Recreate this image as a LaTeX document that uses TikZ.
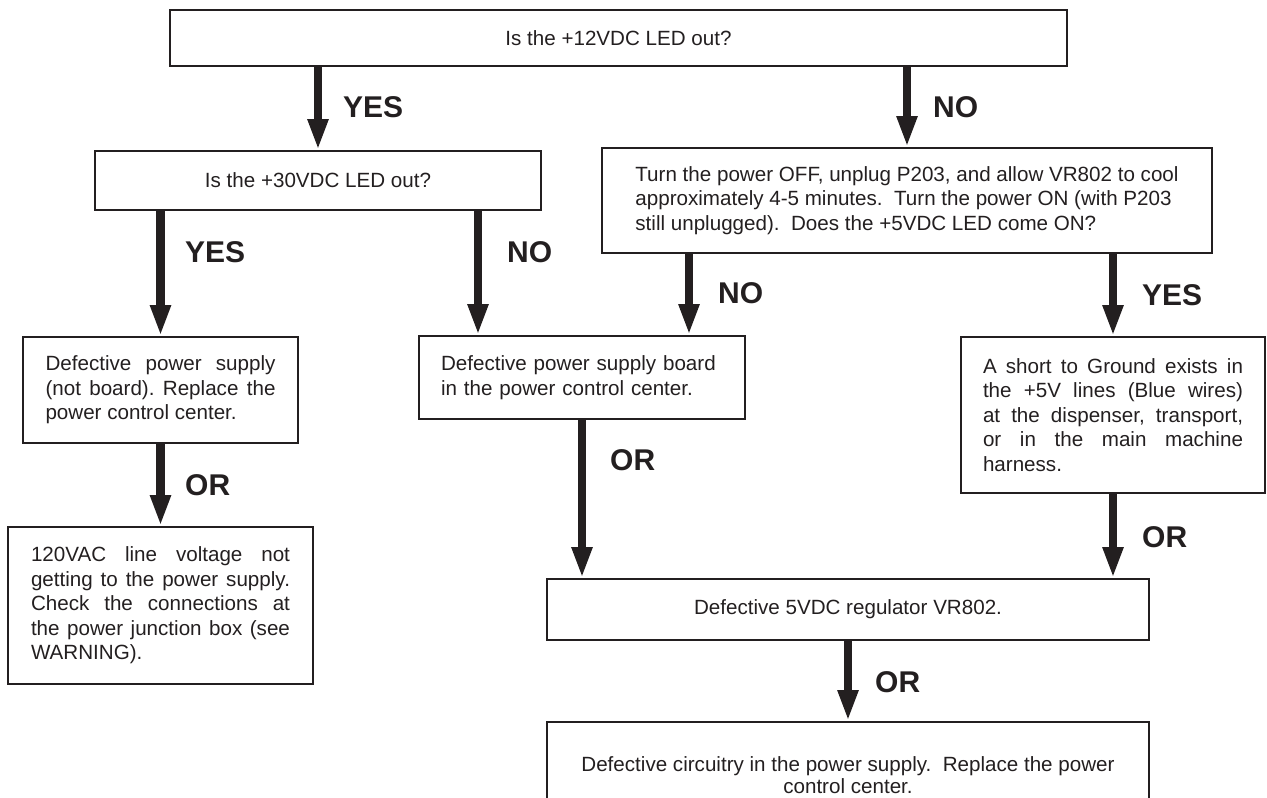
\documentclass[tikz,border=0pt]{standalone}
\usepackage{fontspec}
\setmainfont{Liberation Sans}
\usetikzlibrary{arrows.meta}
\definecolor{ink}{HTML}{231F20}
\hyphenpenalty=10000
\exhyphenpenalty=10000
\frenchspacing
\begin{document}
\begin{tikzpicture}[x=1pt,y=-1pt,
  box/.style={draw=ink, line width=1.8pt, inner sep=0pt, text=ink,
    font=\fontsize{20.6}{24.5}\selectfont},
  arr/.style={draw=ink, line width=8.5pt,
    -{Triangle[length=31pt,width=19pt]}},
  lab/.style={anchor=west, inner sep=0pt, text=ink,
    font=\fontsize{30}{36}\selectfont\bfseries}]
\useasboundingbox (0,0) rectangle (1267,798);

% boxes
\node[box, minimum width=897pt, minimum height=56pt] (top) at (618.5,38)
  {Is the +12VDC LED out?};
\node[box, minimum width=446pt, minimum height=59pt] (b2) at (318,180.5)
  {Is the +30VDC LED out?};
\node[box, minimum width=610pt, minimum height=105pt, align=left] (b3) at (907,200.5)
  {Turn the power OFF, unplug P203, and allow VR802 to cool\\
   approximately 4-5 minutes.\ \ Turn the power ON (with P203\\
   still unplugged).\ \ Does the +5VDC LED come ON?};
\node[box, minimum width=275pt, minimum height=106pt, text width=230pt, align=justify] (b4) at (160.5,390)
  {Defective power supply\linebreak (not board). Replace the\linebreak power control center.};
\node[box, minimum width=326pt, minimum height=83pt, text width=282pt, align=left] (b5) at (582,377.5)
  {Defective power supply board\\in the power control center.};
\node[box, minimum width=304pt, minimum height=156pt, text width=260pt, align=justify] (b6) at (1113,415)
  {A short to Ground exists in\linebreak the +5V lines (Blue wires)\linebreak at the dispenser, transport,\linebreak or in the main machine\linebreak harness.};
\node[box, minimum width=305pt, minimum height=157pt, text width=259pt, align=justify] (b9) at (160.5,605.5)
  {120VAC line voltage not\linebreak getting to the power supply.\linebreak Check the connections at\linebreak the power junction box (see\linebreak WARNING).};
\node[box, minimum width=602pt, minimum height=61pt] (b7) at (848,609.5)
  {Defective 5VDC regulator VR802.};
\node[box, minimum width=602pt, minimum height=106pt, align=center,
      font=\fontsize{20.6}{22}\selectfont] (b8) at (848,775)
  {Defective circuitry in the power supply.\ \ Replace the power\\control center.};

% helper x positions
\coordinate (c4) at (478,0);
\coordinate (c5) at (689,0);

% arrows
\draw[arr] (b2.north |- top.south) -- (b2.north);
\draw[arr] (b3.north |- top.south) -- (b3.north);
\draw[arr] (b4.north |- b2.south) -- (b4.north);
\draw[arr] (b2.south -| c4) -- (b5.north -| c4);
\draw[arr] (b3.south -| c5) -- (b5.north -| c5);
\draw[arr] (b6.north |- b3.south) -- (b6.north);
\draw[arr] (b4.south) -- (b9.north);
\draw[arr] (b5.south) -- (b5.south |- b7.north);
\draw[arr] (b6.south) -- (b6.south |- b7.north);
\draw[arr] (b7.south) -- (b8.north);

% labels
\node[lab] (l1) at (343,107) {YES};
\node[lab] (l2) at (933,107) {NO};
\node[lab] (l3) at (185,252) {YES};
\node[lab] (l4) at (507,252) {NO};
\node[lab] (l5) at (718,293) {NO};
\node[lab] (l6) at (1142,295) {YES};
\node[lab] (l7) at (185,485) {OR};
\node[lab] (l8) at (610,460) {OR};
\node[lab] (l9) at (1142,537) {OR};
\node[lab] (l10) at (875,682) {OR};
\end{tikzpicture}
\end{document}
